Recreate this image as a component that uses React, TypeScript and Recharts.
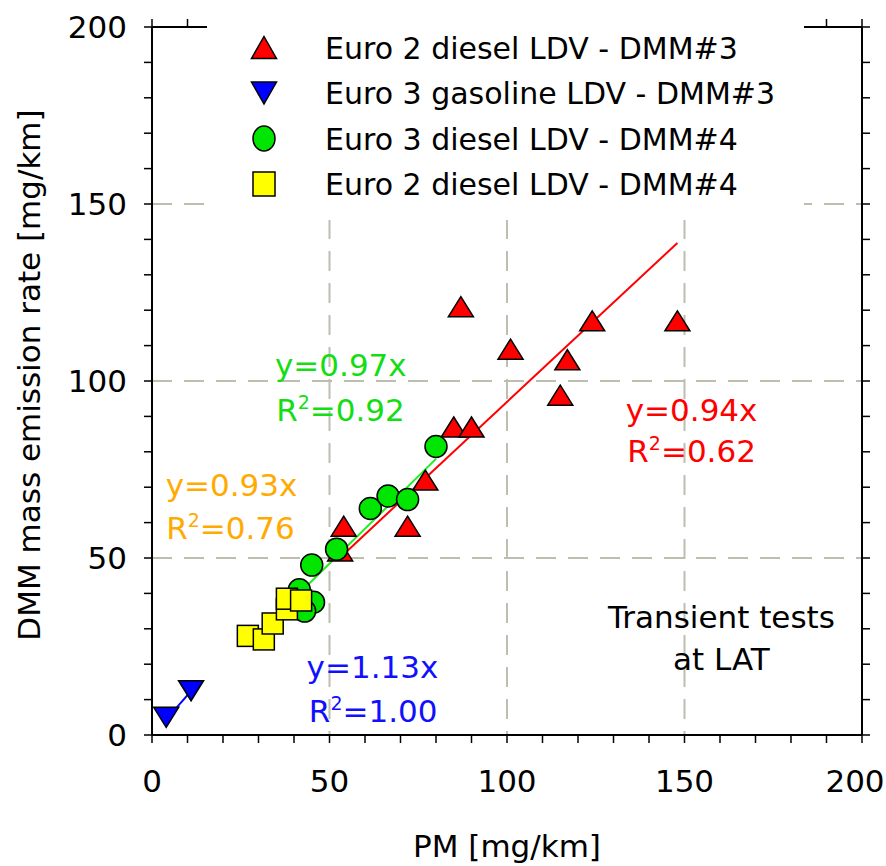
import React from "react";
import {
  ScatterChart,
  Scatter,
  XAxis,
  YAxis,
  CartesianGrid,
  Legend,
  ReferenceDot,
} from "recharts";

// ---- data ----
const euro2DieselDmm3 = [
  { x: 54, y: 59 },
  { x: 53, y: 52 },
  { x: 72, y: 59 },
  { x: 77, y: 72 },
  { x: 85, y: 87 },
  { x: 90, y: 87 },
  { x: 87, y: 121 },
  { x: 101, y: 109 },
  { x: 115, y: 96 },
  { x: 117, y: 106 },
  { x: 124, y: 117 },
  { x: 148, y: 117 },
];
const euro3GasolineDmm3 = [
  { x: 4, y: 5 },
  { x: 11, y: 12.5 },
];
const euro3DieselDmm4 = [
  { x: 80, y: 81.5 },
  { x: 61.5, y: 64 },
  { x: 66.5, y: 67.5 },
  { x: 72, y: 66.5 },
  { x: 52, y: 52.5 },
  { x: 45, y: 48 },
  { x: 41.5, y: 41 },
  { x: 45.5, y: 37.5 },
  { x: 43, y: 35 },
];
const euro2DieselDmm4 = [
  { x: 27, y: 28 },
  { x: 31.5, y: 27 },
  { x: 34, y: 31.5 },
  { x: 38, y: 35.5 },
  { x: 38, y: 38.5 },
  { x: 42, y: 38 },
];

// fitted lines (end points)
const redFit = [
  { x: 55, y: 52 },
  { x: 148, y: 139 },
];
const greenFit = [
  { x: 43.5, y: 42 },
  { x: 80, y: 78 },
];
const blueFit = [
  { x: 4.5, y: 5 },
  { x: 11, y: 12.4 },
];

const seriesNames = [
  "Euro 2 diesel LDV - DMM#3",
  "Euro 3 gasoline LDV - DMM#3",
  "Euro 3 diesel LDV - DMM#4",
  "Euro 2 diesel LDV - DMM#4",
];

const axisTicks = [
  0, 10, 20, 30, 40, 50, 60, 70, 80, 90, 100, 110, 120, 130, 140, 150, 160,
  170, 180, 190, 200,
];
const labelTicks = [0, 50, 100, 150, 200];
const gridValues = [50, 100, 150];

// annotations: x centre, y baseline (data units)
const annotations = [
  { x: 53.2, y: 101.4, text: "y=0.97x", color: "#14DD14", r2: false },
  { x: 53.1, y: 88.7, text: "0.92", color: "#14DD14", r2: true },
  { x: 22.4, y: 67.6, text: "y=0.93x", color: "#FFAA00", r2: false },
  { x: 22.1, y: 55.5, text: "0.76", color: "#FFAA00", r2: true },
  { x: 62.1, y: 16.1, text: "y=1.13x", color: "#1010FF", r2: false },
  { x: 62.3, y: 3.7, text: "1.00", color: "#1010FF", r2: true },
  { x: 152, y: 88.7, text: "y=0.94x", color: "#FF0000", r2: false },
  { x: 152, y: 77.2, text: "0.62", color: "#FF0000", r2: true },
  { x: 160.4, y: 30.1, text: "Transient tests", color: "#000000", r2: false },
  { x: 160.4, y: 18.3, text: "at LAT", color: "#000000", r2: false },
];

const FONT = "'DejaVu Sans', Verdana, sans-serif";

// ---- marker shapes ----
const TriUp = (p: any) => (
  <polygon
    points={`${p.cx},${p.cy - 10} ${p.cx + 12.5},${p.cy + 10} ${p.cx - 12.5},${p.cy + 10}`}
    fill="#FF0000"
    stroke="#000"
    strokeWidth={1.5}
  />
);
const TriDown = (p: any) => (
  <polygon
    points={`${p.cx - 12.5},${p.cy - 10} ${p.cx + 12.5},${p.cy - 10} ${p.cx},${p.cy + 10}`}
    fill="#0000FF"
    stroke="#000"
    strokeWidth={1.5}
  />
);
const Circ = (p: any) => (
  <circle cx={p.cx} cy={p.cy} r={11} fill="#00E600" stroke="#000" strokeWidth={1.5} />
);
const Sq = (p: any) => (
  <rect x={p.cx - 10.5} y={p.cy - 10.5} width={21} height={21} fill="#FFFF00" stroke="#000" strokeWidth={1.5} />
);
const NoShape = () => <g />;

const legendIcon = (i: number) => {
  const cx = 57;
  const cy = 0;
  if (i === 0)
    return <polygon points={`${cx},${cy - 11} ${cx + 12.5},${cy + 11} ${cx - 12.5},${cy + 11}`} fill="#FF0000" stroke="#000" strokeWidth={1.5} />;
  if (i === 1)
    return <polygon points={`${cx - 12.5},${cy - 11} ${cx + 12.5},${cy - 11} ${cx},${cy + 11}`} fill="#0000FF" stroke="#000" strokeWidth={1.5} />;
  if (i === 2)
    return <ellipse cx={cx} cy={cy} rx={11} ry={12.5} fill="#00E600" stroke="#000" strokeWidth={1.5} />;
  return <rect x={cx - 11} y={cy - 12} width={22} height={24} fill="#FFFF00" stroke="#000" strokeWidth={1.5} />;
};

const LegendContent = (props: any) => {
  const present = (props.payload || []).map((e: any) => e.value);
  const rows = seriesNames.filter((n) => present.length === 0 || present.includes(n));
  const rowCentres = [47.5, 93, 138.5, 184];
  return (
    <svg width={597} height={220} style={{ display: "block" }}>
      {rows.map((name: string, i: number) => (
        <g key={name} transform={`translate(0, ${rowCentres[i]})`}>
          {legendIcon(seriesNames.indexOf(name))}
          <text x={118} y={11} fontFamily={FONT} fontSize={30} fill="#000">
            {name}
          </text>
        </g>
      ))}
    </svg>
  );
};

const XTick = (props: any) => {
  const { x, y, payload } = props;
  if (!labelTicks.includes(payload.value)) return <g />;
  const shift = payload.value === 200 ? -7 : 0;
  return (
    <text x={x + shift} y={y} dy="0.71em" textAnchor="middle" fontFamily={FONT} fontSize={31} fill="#000">
      {payload.value}
    </text>
  );
};
const YTick = (props: any) => {
  const { x, y, payload } = props;
  if (!labelTicks.includes(payload.value)) return <g />;
  return (
    <text x={x} y={y} dy="0.355em" textAnchor="end" fontFamily={FONT} fontSize={31} fill="#000">
      {payload.value}
    </text>
  );
};

const makeAnnotation = (a: any) => (props: any) => {
  const vb = props.viewBox || {};
  const cx = (vb.x || 0) + (vb.width || 0) / 2;
  const cy = (vb.y || 0) + (vb.height || 0) / 2;
  if (a.r2) {
    return (
      <text x={cx} y={cy} textAnchor="middle" fontFamily={FONT} fontSize={31} fill={a.color}>
        R<tspan dy={-12} fontSize={19}>2</tspan>
        <tspan dy={12}>{"=" + a.text}</tspan>
      </text>
    );
  }
  return (
    <text x={cx} y={cy} textAnchor="middle" fontFamily={FONT} fontSize={31} fill={a.color}>
      {a.text}
    </text>
  );
};

const XLabel = (props: any) => {
  const vb = props.viewBox || {};
  return (
    <text x={vb.x + vb.width / 2} y={vb.y + 122} textAnchor="middle" fontFamily={FONT} fontSize={31} fill="#000">
      PM [mg/km]
    </text>
  );
};
const YLabel = (props: any) => {
  const vb = props.viewBox || {};
  const x = vb.x + 40;
  const y = vb.y + vb.height / 2 - 6;
  return (
    <text x={x} y={y} transform={`rotate(-90, ${x}, ${y})`} textAnchor="middle" fontFamily={FONT} fontSize={31} fill="#000">
      DMM mass emission rate [mg/km]
    </text>
  );
};

const axisLine = { stroke: "#000", strokeWidth: 2 };
const tickLine = { stroke: "#000", strokeWidth: 1.5 };

export default function App() {
  return (
    <div style={{ position: "absolute", left: 0, top: 0, width: 886, height: 866, background: "#fff" }}>
      <ScatterChart width={886} height={866} margin={{ top: 26, right: 23, bottom: 0, left: 0 }}>
        <CartesianGrid
          xAxisId="b"
          yAxisId="l"
          horizontal
          vertical
          horizontalValues={gridValues}
          verticalValues={gridValues}
          stroke="#BEBEAE"
          strokeWidth={2}
          strokeDasharray="20 12"
        />
        <XAxis
          xAxisId="b"
          type="number"
          dataKey="x"
          domain={[0, 200]}
          ticks={axisTicks}
          interval={0}
          orientation="bottom"
          height={131}
          tickSize={8}
          tickMargin={27}
          tick={XTick}
          tickLine={tickLine}
          axisLine={axisLine}
          allowDataOverflow
          label={{ content: XLabel }}
        />
        <XAxis
          xAxisId="t"
          type="number"
          dataKey="x"
          domain={[0, 200]}
          ticks={axisTicks}
          interval={0}
          orientation="top"
          height={1}
          tickSize={8}
          tick={() => <g />}
          tickLine={tickLine}
          axisLine={axisLine}
          allowDataOverflow
        />
        <YAxis
          yAxisId="l"
          type="number"
          dataKey="y"
          domain={[0, 200]}
          ticks={axisTicks}
          interval={0}
          orientation="left"
          width={152}
          tickSize={8}
          tickMargin={17}
          tick={YTick}
          tickLine={tickLine}
          axisLine={axisLine}
          allowDataOverflow
          label={{ content: YLabel }}
        />
        <YAxis
          yAxisId="r"
          type="number"
          dataKey="y"
          domain={[0, 200]}
          ticks={axisTicks}
          interval={0}
          orientation="right"
          width={1}
          tickSize={8}
          tick={() => <g />}
          tickLine={tickLine}
          axisLine={axisLine}
          allowDataOverflow
        />

        <Scatter xAxisId="t" yAxisId="r" data={redFit} line={{ stroke: "#FF0000", strokeWidth: 2 }} shape={NoShape} legendType="none" isAnimationActive={false} />
        <Scatter xAxisId="b" yAxisId="l" data={greenFit} line={{ stroke: "#22EE22", strokeWidth: 2 }} shape={NoShape} legendType="none" isAnimationActive={false} />
        <Scatter xAxisId="b" yAxisId="l" data={blueFit} line={{ stroke: "#0000FF", strokeWidth: 2 }} shape={NoShape} legendType="none" isAnimationActive={false} />

        <Scatter xAxisId="b" yAxisId="l" name={seriesNames[0]} data={euro2DieselDmm3} fill="#FF0000" shape={TriUp} isAnimationActive={false} />
        <Scatter xAxisId="b" yAxisId="l" name={seriesNames[1]} data={euro3GasolineDmm3} fill="#0000FF" shape={TriDown} isAnimationActive={false} />
        <Scatter xAxisId="b" yAxisId="l" name={seriesNames[2]} data={euro3DieselDmm4} fill="#00E600" shape={Circ} isAnimationActive={false} />
        <Scatter xAxisId="b" yAxisId="l" name={seriesNames[3]} data={euro2DieselDmm4} fill="#FFFF00" shape={Sq} isAnimationActive={false} />

        {annotations.map((a, i) => (
          <ReferenceDot
            key={i}
            xAxisId="b"
            yAxisId="l"
            x={a.x}
            y={a.y}
            r={0}
            fill="none"
            stroke="none"
            ifOverflow="visible"
            label={makeAnnotation(a)}
          />
        ))}

        <Legend
          layout="vertical"
          align="center"
          verticalAlign="middle"
          content={LegendContent}
          wrapperStyle={{ left: 207, top: 0, width: 597, height: 220, backgroundColor: "#fff", margin: 0, padding: 0 }}
        />
      </ScatterChart>
    </div>
  );
}
